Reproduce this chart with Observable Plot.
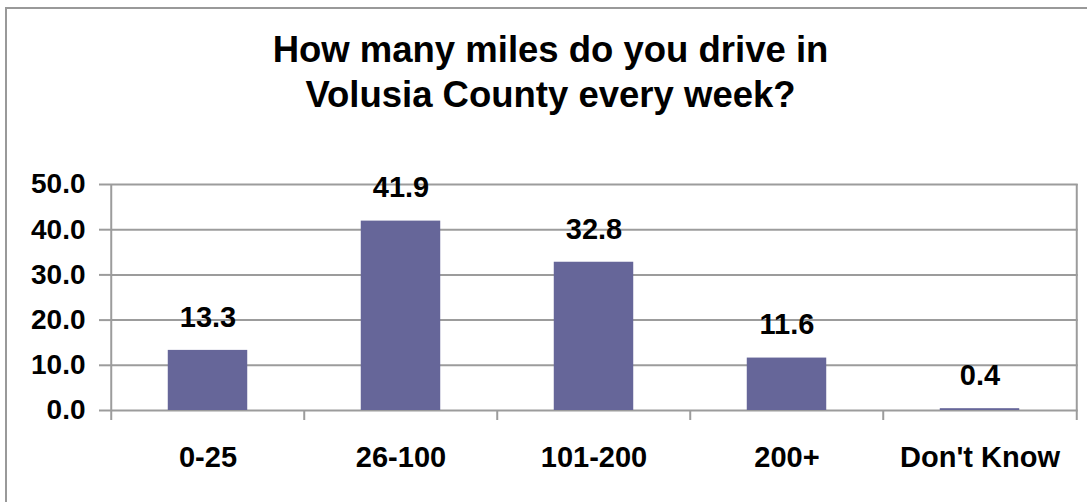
<!DOCTYPE html>
<html>
<head>
<meta charset="utf-8">
<script src="https://cdn.jsdelivr.net/npm/d3@7"></script>
<script src="https://cdn.jsdelivr.net/npm/@observablehq/plot@0.6"></script>
<style>
  html, body { margin: 0; padding: 0; background: #fff; overflow: hidden; width: 1087px; height: 502px; }
  #frame { position: absolute; left: 5px; top: 7px; width: 1200px; height: 600px; border: 2px solid #999; box-sizing: border-box; }
  #title { position: absolute; left: 0; top: 27px; width: 1101px; text-align: center;
           font-family: "Liberation Sans", Arial, sans-serif; font-weight: bold; font-size: 36.5px; line-height: 45px; color: #000; }
  #chart { position: absolute; left: 0; top: 130px; }
</style>
</head>
<body>
<div id="frame"></div>
<div id="title">How many miles do you drive in<br>Volusia County every week?</div>
<div id="chart"></div>
<script>
const categories = ["0-25", "26-100", "101-200", "200+", "Don't Know"];
const values = [13.3, 41.9, 32.8, 11.6, 0.4];
const yTicks = [0, 10, 20, 30, 40, 50];

const data = categories.map((c, i) => ({category: c, value: values[i]}));

const W = 1087, H = 372, mL = 110, mR = 9.3, mT = 54, mB = 92;
const step = (W - mL - mR) / categories.length;
const barW = 80;
const inset = (step - barW) / 2;
const grid = "#9c9c9c";

const plot = Plot.plot({
  width: W, height: H,
  marginLeft: mL, marginRight: mR, marginTop: mT, marginBottom: mB,
  style: {fontFamily: "'Liberation Sans', Arial, sans-serif", background: "transparent", overflow: "visible"},
  x: {type: "band", domain: categories, padding: 0, axis: null},
  y: {domain: [0, 50], axis: null},
  marks: [
    Plot.ruleY(yTicks, {stroke: grid, strokeWidth: 2}),
    Plot.ruleX([categories[0]], {dx: -step / 2, y1: 50, y2: 0, insetBottom: -10, stroke: grid, strokeWidth: 2}),
    Plot.ruleX([categories[categories.length - 1]], {dx: step / 2, y1: 50, y2: 0, insetBottom: -10, stroke: grid, strokeWidth: 2}),
    Plot.ruleX(categories.slice(1), {dx: -step / 2, y1: 0, y2: 0, insetBottom: -10, stroke: grid, strokeWidth: 2}),
    Plot.barY(data, {x: "category", y: "value", fill: "#666699", insetLeft: inset, insetRight: inset}),
    Plot.axisY({ticks: yTicks, tickFormat: d3.format(".1f"), tickSize: 11, tickPadding: 14, label: null,
                stroke: grid, strokeWidth: 2, fill: "#000", fontSize: 28, fontWeight: "bold"}),
    Plot.text(data, {x: "category", y: "value", text: d => d3.format(".1f")(d.value), dy: -33,
                     lineAnchor: "middle", fontSize: 29, fontWeight: "bold", fill: "#000"}),
    Plot.text(categories, {x: d => d, frameAnchor: "bottom", dy: 47, lineAnchor: "middle",
                           fontSize: 29, fontWeight: "bold", fill: "#000"})
  ]
});
document.getElementById("chart").appendChild(plot);
</script>
</body>
</html>
